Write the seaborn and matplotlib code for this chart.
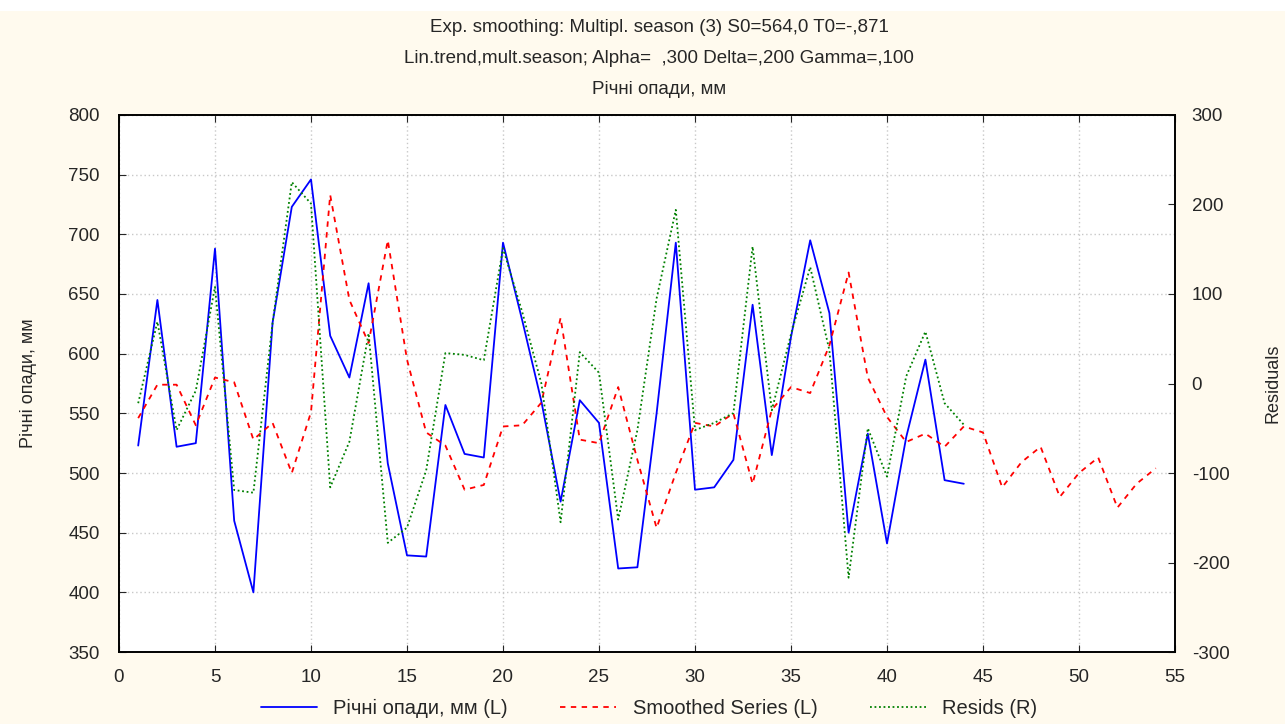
import numpy as np
import pandas as pd
import seaborn as sns
import matplotlib.pyplot as plt
from matplotlib.patches import Rectangle

# observed series (left axis), years 1..44
years_obs = list(range(1, 45))
rainfall = [523, 645, 522, 525, 688, 460, 400, 626, 723, 746,
            615, 580, 659, 508, 431, 430, 557, 516, 513, 693,
            628, 560, 476, 561, 542, 420, 421, 550, 693, 486,
            488, 511, 641, 515, 614, 695, 634, 450, 533, 441,
            530, 595, 494, 491]

# smoothed series incl. forecast (left axis), years 1..54
years_smooth = list(range(1, 55))
smoothed = [546, 574, 574, 540, 580, 576, 528, 542, 500, 551,
            733, 645, 609, 695, 595, 534, 523, 486, 490, 539,
            540, 559, 630, 528, 525, 572, 511, 454, 500, 542,
            539, 550, 491, 553, 572, 567, 607, 668, 580, 547,
            526, 533, 522, 539, 534, 488, 509, 522, 480, 500,
            513, 471, 491, 504]

# residuals (right axis), years 1..44
resids = [-22, 69, -52, -8, 108, -119, -122, 68, 225, 201,
          -116, -65, 56, -178, -161, -97, 34, 32, 26, 151,
          80, 0, -155, 35, 12, -152, -52, 95, 194, -52,
          -44, -33, 153, -30, 55, 130, 37, -217, -50, -104,
          8, 58, -22, -46]

titles = ["Exp. smoothing: Multipl. season (3) S0=564,0 T0=-,871",
          "Lin.trend,mult.season; Alpha=  ,300 Delta=,200 Gamma=,100",
          "Річні опади, мм"]
labels = ["Річні опади, мм (L)", "Smoothed Series (L)", "Resids (R)"]

df_obs = pd.DataFrame({"x": years_obs, "y": rainfall})
df_smooth = pd.DataFrame({"x": years_smooth, "y": smoothed})
df_res = pd.DataFrame({"x": years_obs, "y": resids})

sns.set_style("ticks")
plt.rcParams['font.family'] = ['Liberation Sans', 'DejaVu Sans']
plt.rcParams['axes.unicode_minus'] = False

bg = "#fffaee"
fig = plt.figure(figsize=(12.85, 7.24), dpi=100, facecolor=bg)
fig.add_artist(Rectangle((0, 0.985), 1, 0.015, transform=fig.transFigure,
                         facecolor="white", edgecolor="none"))
ax = fig.add_axes([0.0926, 0.0994, 0.8218, 0.7418])
ax.set_facecolor("white")
ax2 = ax.twinx()

sns.lineplot(data=df_obs, x="x", y="y", ax=ax, color="#0000ff", lw=1.3,
             label=labels[0], legend=False)
sns.lineplot(data=df_smooth, x="x", y="y", ax=ax, color="#ff0000", lw=1.3,
             linestyle=(0, (3, 3)), label=labels[1], legend=False)
sns.lineplot(data=df_res, x="x", y="y", ax=ax2, color="#008000", lw=1.3,
             linestyle=(0, (1, 1.5)), label=labels[2], legend=False)

ax.set_xlim(0, 55)
ax.set_ylim(350, 800)
ax2.set_ylim(-300, 300)
ax.set_xticks(range(0, 56, 5))
ax.set_yticks(range(350, 801, 50))
ax2.set_yticks(range(-300, 301, 100))

ax.grid(True, color="#c8c8c8", linestyle=(0, (1, 2)), lw=1)
ax.tick_params(axis="x", direction="in", labelsize=13.5, length=5,
               top=True, pad=12)
ax.tick_params(axis="y", direction="in", labelsize=13.5, length=5, pad=14)
ax2.tick_params(axis="y", direction="in", labelsize=13.5, length=5, pad=12)
for a in (ax, ax2):
    for s in a.spines.values():
        s.set_color("black")
        s.set_linewidth(1.2)

ax.set_xlabel("")
ax.set_ylabel("Річні опади, мм", fontsize=13, labelpad=22)
ax2.set_ylabel("Residuals", fontsize=13, labelpad=25)

for i, t in enumerate(titles):
    fig.text(0.513, 0.962 - i * 0.0425, t, ha="center", va="center", fontsize=13.5)

h1, l1 = ax.get_legend_handles_labels()
h2, l2 = ax2.get_legend_handles_labels()
fig.legend(h1 + h2, l1 + l2, loc="center", bbox_to_anchor=(0.505, 0.022), ncol=3,
           frameon=False, fontsize=14.5, handlelength=2.8, columnspacing=2.6)

fig.savefig("out.png", dpi=100, facecolor=bg)
